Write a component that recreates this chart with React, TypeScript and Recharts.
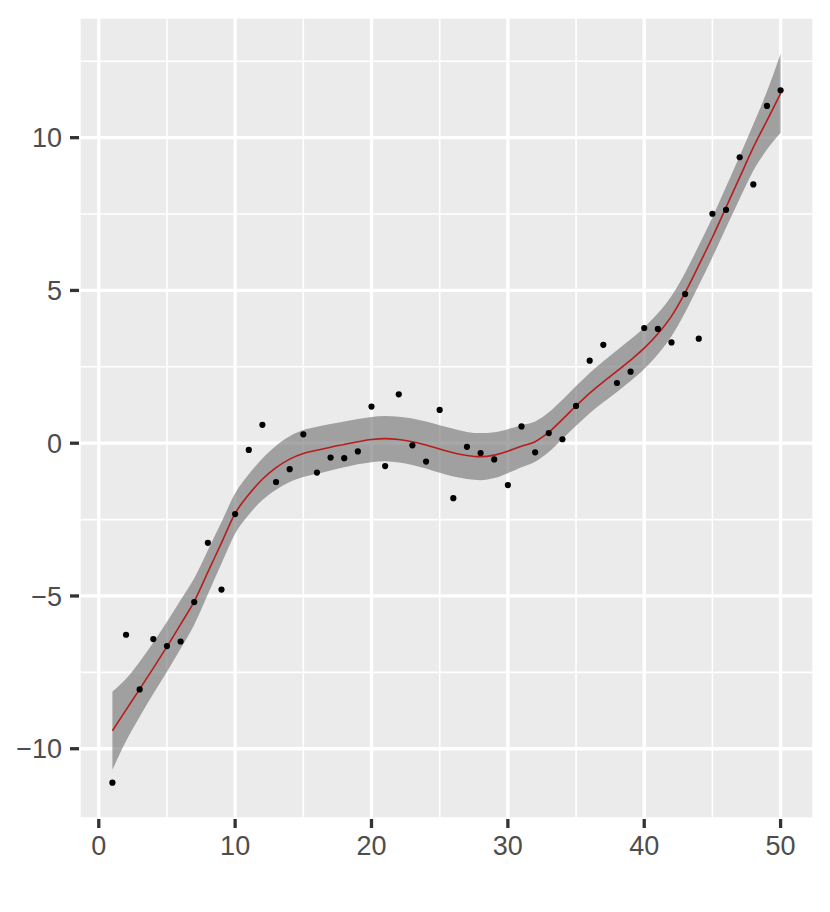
import {
  Area,
  CartesianGrid,
  ComposedChart,
  Line,
  Scatter,
  XAxis,
  YAxis,
} from 'recharts'

const xs = [
  1, 2, 3, 4, 5, 6, 7, 8, 9, 10, 11, 12, 13, 14, 15, 16, 17, 18, 19, 20, 21, 22, 23, 24, 25,
  26, 27, 28, 29, 30, 31, 32, 33, 34, 35, 36, 37, 38, 39, 40, 41, 42, 43, 44, 45, 46, 47, 48,
  49, 50,
]

// observed points
const ys = [
  -11.11, -6.27, -8.06, -6.41, -6.64, -6.49, -5.2, -3.26, -4.79, -2.32, -0.22, 0.6, -1.27,
  -0.85, 0.29, -0.96, -0.47, -0.49, -0.27, 1.2, -0.75, 1.6, -0.07, -0.6, 1.09, -1.8, -0.12,
  -0.32, -0.53, -1.37, 0.55, -0.3, 0.33, 0.13, 1.22, 2.7, 3.22, 1.97, 2.34, 3.77, 3.74, 3.3,
  4.88, 3.42, 7.51, 7.64, 9.36, 8.47, 11.04, 11.55,
]

// loess fit and its confidence band
const fit = [
  -9.41, -8.73, -8.05, -7.36, -6.66, -5.93, -5.18, -4.22, -3.26, -2.3, -1.68, -1.18, -0.8,
  -0.52, -0.34, -0.23, -0.13, -0.04, 0.05, 0.12, 0.15, 0.12, 0.05, -0.06, -0.19, -0.31, -0.4,
  -0.44, -0.39, -0.26, -0.1, 0.05, 0.36, 0.78, 1.22, 1.64, 2.01, 2.36, 2.72, 3.11, 3.58, 4.16,
  4.93, 5.82, 6.74, 7.72, 8.7, 9.68, 10.56, 11.45,
]
const lower = [
  -10.69, -9.75, -8.95, -8.2, -7.48, -6.73, -5.94, -4.94, -3.94, -2.96, -2.34, -1.86, -1.52,
  -1.27, -1.11, -1.0, -0.89, -0.79, -0.69, -0.62, -0.59, -0.63, -0.71, -0.83, -0.97, -1.09,
  -1.17, -1.21, -1.14, -0.98, -0.79, -0.61, -0.29, 0.14, 0.57, 0.98, 1.34, 1.68, 2.04, 2.43,
  2.91, 3.5, 4.28, 5.17, 6.09, 7.05, 8.0, 8.92, 9.61, 10.15,
]
const upper = [
  -8.13, -7.71, -7.15, -6.52, -5.84, -5.13, -4.42, -3.5, -2.58, -1.64, -1.02, -0.5, -0.08,
  0.23, 0.43, 0.54, 0.63, 0.71, 0.79, 0.86, 0.89, 0.87, 0.81, 0.71, 0.59, 0.47, 0.37, 0.33,
  0.36, 0.46, 0.59, 0.71, 1.01, 1.42, 1.87, 2.3, 2.68, 3.04, 3.4, 3.79, 4.25, 4.82, 5.58, 6.47,
  7.39, 8.39, 9.4, 10.44, 11.51, 12.75,
]

const xTicks = [0, 10, 20, 30, 40, 50]
const yTicks = [-10, -5, 0, 5, 10]
const xMinor = [5, 15, 25, 35, 45]
const yMinor = [-7.5, -2.5, 2.5, 7.5, 12.5]

const rows = xs.map((x, i) => ({
  x,
  y: ys[i],
  fit: fit[i],
  band: [lower[i], upper[i]],
}))

const font = '"Liberation Sans", Arial, Helvetica, sans-serif'
const tickStyle = { fill: '#4D4D4D', fontSize: 27, fontFamily: font }
const tickLine = { stroke: '#333333', strokeWidth: 3.3 }
const fmt = (v: number) => (v < 0 ? `\u2212${Math.abs(v)}` : `${v}`)

const Dot = (props: any) => <circle cx={props.cx} cy={props.cy} r={3.1} fill="#000" />

export default function App() {
  return (
    <div style={{ position: 'absolute', left: 0, top: 0, background: '#fff' }}>
      <ComposedChart
        width={830}
        height={912}
        data={rows}
        margin={{ top: 17, right: 16, bottom: 33, left: 0 }}
      >
        <CartesianGrid
          fill="#EBEBEB"
          fillOpacity={1}
          stroke="#FFFFFF"
          strokeWidth={1.6}
          verticalValues={xMinor}
          horizontalValues={yMinor}
        />
        <CartesianGrid stroke="#FFFFFF" strokeWidth={3.3} />
        <XAxis
          dataKey="x"
          type="number"
          domain={[-1.45, 52.45]}
          allowDataOverflow
          ticks={xTicks}
          axisLine={false}
          tickLine={tickLine}
          tickSize={9}
          tickMargin={8}
          tick={tickStyle}
          height={60}
        />
        <YAxis
          type="number"
          domain={[-12.3, 13.95]}
          allowDataOverflow
          ticks={yTicks}
          tickFormatter={fmt}
          axisLine={false}
          tickLine={tickLine}
          tickSize={9}
          tickMargin={8}
          tick={tickStyle}
          width={79}
        />
        <Area
          dataKey="band"
          type="monotone"
          stroke="none"
          fill="#6E6E6E"
          fillOpacity={0.6}
          isAnimationActive={false}
          activeDot={false}
        />
        <Line
          dataKey="fit"
          type="monotone"
          stroke="#B81D1D"
          strokeWidth={1.6}
          dot={false}
          activeDot={false}
          isAnimationActive={false}
        />
        <Scatter dataKey="y" fill="#000" shape={Dot} isAnimationActive={false} />
      </ComposedChart>
    </div>
  )
}
